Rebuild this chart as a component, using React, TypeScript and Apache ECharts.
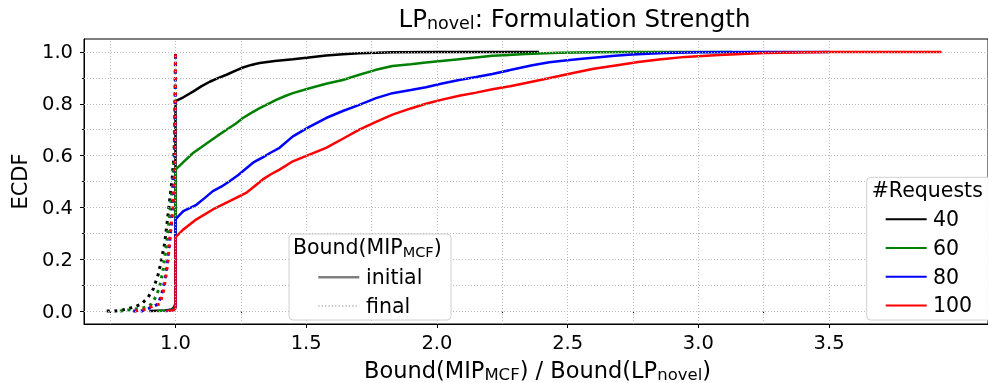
import React, { useEffect, useRef } from "react";
import * as echarts from "echarts";

const requestLabels = ["40", "60", "80", "100"];
const requestColors = ["#000000", "#008000", "#0000ff", "#ff0000"];

const initial40 = [[0.90,0],[0.96,0.002],[0.985,0.006],[0.995,0.015],[1.0,0.03],[1.0,0.81],[1.03,0.825],[1.067,0.847],[1.1,0.868],[1.131,0.885],[1.16,0.898],[1.195,0.912],[1.23,0.928],[1.258,0.94],[1.29,0.95],[1.322,0.957],[1.38,0.965],[1.449,0.972],[1.51,0.979],[1.576,0.986],[1.64,0.991],[1.703,0.995],[1.77,0.997],[1.83,0.999],[2.0,1.0],[2.39,1.0]];
const initial60 = [[0.93,0],[0.97,0.002],[0.99,0.006],[0.997,0.012],[1.0,0.02],[1.0,0.546],[1.03,0.575],[1.067,0.61],[1.1,0.633],[1.131,0.655],[1.16,0.676],[1.195,0.70],[1.23,0.723],[1.258,0.745],[1.29,0.765],[1.322,0.783],[1.355,0.80],[1.385,0.815],[1.42,0.83],[1.449,0.841],[1.513,0.86],[1.576,0.877],[1.64,0.892],[1.703,0.912],[1.767,0.931],[1.83,0.946],[1.9,0.953],[1.958,0.959],[2.085,0.972],[2.212,0.985],[2.34,0.992],[2.467,0.997],[2.6,0.999],[2.745,1.0],[3.13,1.0]];
const initial80 = [[0.96,0],[0.99,0.003],[0.998,0.008],[1.0,0.015],[1.0,0.354],[1.015,0.37],[1.03,0.386],[1.08,0.41],[1.11,0.435],[1.143,0.463],[1.175,0.48],[1.207,0.501],[1.24,0.525],[1.27,0.55],[1.30,0.575],[1.334,0.593],[1.365,0.612],[1.398,0.63],[1.449,0.674],[1.51,0.71],[1.576,0.745],[1.64,0.772],[1.703,0.796],[1.767,0.822],[1.83,0.841],[1.9,0.853],[1.958,0.864],[2.02,0.878],[2.085,0.892],[2.15,0.903],[2.212,0.915],[2.28,0.93],[2.365,0.949],[2.43,0.96],[2.49,0.967],[2.555,0.974],[2.62,0.98],[2.68,0.985],[2.747,0.99],[2.87,0.996],[3.0,0.999],[3.2,1.0],[3.5,1.0]];
const initial100 = [[0.965,0],[0.99,0.003],[0.998,0.008],[1.0,0.015],[1.0,0.285],[1.015,0.30],[1.03,0.315],[1.08,0.354],[1.143,0.392],[1.207,0.424],[1.27,0.456],[1.30,0.48],[1.334,0.508],[1.365,0.528],[1.398,0.546],[1.449,0.578],[1.51,0.603],[1.576,0.63],[1.64,0.665],[1.703,0.70],[1.767,0.73],[1.83,0.758],[1.9,0.782],[1.958,0.80],[2.02,0.816],[2.085,0.831],[2.15,0.843],[2.212,0.856],[2.28,0.868],[2.34,0.88],[2.40,0.893],[2.467,0.907],[2.53,0.921],[2.6,0.935],[2.696,0.95],[2.77,0.961],[2.85,0.971],[2.95,0.981],[3.08,0.988],[3.256,0.996],[3.5,1.0],[3.93,1.0]];

const final40 = [[0.737,0],[0.768,0],[0.80,0.005],[0.838,0.014],[0.87,0.027],[0.895,0.053],[0.915,0.085],[0.934,0.142],[0.947,0.2],[0.959,0.264],[0.968,0.341],[0.978,0.431],[0.987,0.508],[0.994,0.597],[0.997,0.70],[0.999,0.85],[1.0,1.0]];
const final60 = [[0.787,0],[0.826,0.005],[0.889,0.014],[0.908,0.027],[0.927,0.059],[0.94,0.097],[0.953,0.161],[0.963,0.238],[0.972,0.315],[0.981,0.405],[0.989,0.495],[0.995,0.597],[0.998,0.72],[1.0,1.0]];
const final80 = [[0.838,0],[0.87,0],[0.908,0.014],[0.934,0.027],[0.947,0.065],[0.959,0.117],[0.968,0.18],[0.976,0.251],[0.985,0.341],[0.991,0.443],[0.996,0.546],[0.999,0.72],[1.0,1.0]];
const final100 = [[0.845,0],[0.88,0.005],[0.915,0.02],[0.94,0.027],[0.953,0.072],[0.963,0.13],[0.972,0.2],[0.978,0.277],[0.987,0.367],[0.994,0.469],[0.997,0.572],[0.999,0.74],[1.0,1.0]];

const initialSeries = [initial40, initial60, initial80, initial100];
const finalSeries = [final40, final60, final80, final100];

const xMajorTicks = [1.0, 1.5, 2.0, 2.5, 3.0, 3.5];
const xMinorTicks = [0.75, 1.25, 1.75, 2.25, 2.75, 3.25];
const xGridValues = [0.75, 1.0, 1.25, 1.5, 1.75, 2.0, 2.25, 2.5, 2.75, 3.0, 3.25, 3.5];
const yMajorTicks = [0, 0.2, 0.4, 0.6, 0.8, 1.0];
const yMinorTicks = [0.1, 0.3, 0.5, 0.7, 0.9];
const yGridValues = [0, 0.1, 0.2, 0.3, 0.4, 0.5, 0.6, 0.7, 0.8, 0.9, 1.0];

const FONT = "DejaVu Sans";

export default function App() {
  const ref = useRef<HTMLDivElement>(null);
  useEffect(() => {
    const chart = echarts.init(ref.current!, null, { renderer: "svg" });
    const grid = { left: 84, right: -2, top: 39, bottom: 59, show: true, borderColor: "#000", borderWidth: 1, backgroundColor: "transparent" };
    const xCommon = { type: "value", min: 0.65, max: 4.108, gridIndex: 0, splitLine: { show: false } };
    const yCommon = { type: "value", min: -0.05, max: 1.05, gridIndex: 0, splitLine: { show: false } };
    const series: any[] = [
      {
        type: "line",
        data: [],
        z: 1,
        silent: true,
        markLine: {
          silent: true,
          symbol: ["none", "none"],
          label: { show: false },
          emphasis: { disabled: true },
          lineStyle: { color: "#b8b8b8", width: 1, type: [1, 2] },
          data: [
            ...xGridValues.map((v) => ({ xAxis: v })),
            ...yGridValues.map((v) => ({ yAxis: v })),
          ],
        },
      },
    ];
    initialSeries.forEach((d, i) => {
      series.push({
        type: "line",
        name: requestLabels[i] + " initial",
        data: d,
        showSymbol: false,
        symbol: "none",
        z: 3,
        lineStyle: { color: requestColors[i], width: 2.5 },
      });
    });
    finalSeries.forEach((d, i) => {
      series.push({
        type: "line",
        name: requestLabels[i] + " final",
        data: d,
        showSymbol: false,
        symbol: "none",
        z: 4,
        lineStyle: { color: requestColors[i], width: 3, type: [3, 4.6], cap: "butt" },
      });
    });

    const legendItems: any[] = requestLabels.map((lab, i) => ({
      type: "group",
      z: 20,
      children: [
        { type: "line", z: 21, shape: { x1: 885.7, y1: 219.3 + i * 28.7, x2: 926.7, y2: 219.3 + i * 28.7 }, style: { stroke: requestColors[i], lineWidth: 2 } },
        { type: "text", z: 21, style: { text: lab, x: 933, y: 219.3 + i * 28.7, verticalAlign: "middle", align: "left", fontSize: 20.5, fontFamily: FONT, fill: "#000" } },
      ],
    }));

    chart.setOption({
      animation: false,
      grid,
      xAxis: [
        {
          ...xCommon,
          axisLine: { show: true, onZero: false, lineStyle: { color: "#000", width: 1 } },
          axisTick: { show: true, customValues: xMajorTicks, length: 4, lineStyle: { color: "#000", width: 1 } },
          axisLabel: { show: true, customValues: xMajorTicks, margin: 8, fontSize: 19.5, fontFamily: FONT, color: "#000", formatter: (v: number) => v.toFixed(1) },
        },
        {
          ...xCommon,
          position: "bottom",
          axisLine: { show: false },
          axisTick: { show: true, customValues: xMinorTicks, length: 2, lineStyle: { color: "#000", width: 1 } },
          axisLabel: { show: false },
        },
      ],
      yAxis: [
        {
          ...yCommon,
          axisLine: { show: true, onZero: false, lineStyle: { color: "#000", width: 1 } },
          axisTick: { show: true, customValues: yMajorTicks, length: 4, lineStyle: { color: "#000", width: 1 } },
          axisLabel: { show: true, customValues: yMajorTicks, margin: 11, fontSize: 19.5, fontFamily: FONT, color: "#000", formatter: (v: number) => v.toFixed(1) },
        },
        {
          ...yCommon,
          position: "left",
          axisLine: { show: false },
          axisTick: { show: true, customValues: yMinorTicks, length: 2, lineStyle: { color: "#000", width: 1 } },
          axisLabel: { show: false },
        },
      ],
      series,
      graphic: [
        {
          type: "text", z: 20,
          style: {
            text: "{m|LP}{s|novel}{m|: Formulation Strength}",
            x: 574.5, y: 18, align: "center", verticalAlign: "middle", fill: "#000",
            rich: { m: { fontSize: 24.5, fontFamily: FONT, fill: "#000" }, s: { fontSize: 17.5, fontFamily: FONT, fill: "#000", padding: [10, 0, 0, 0] } },
          },
        },
        {
          type: "text", z: 20,
          style: {
            text: "{m|Bound(MIP}{s|MCF}{m|) / Bound(LP}{s|novel}{m|)}",
            x: 537.5, y: 370, align: "center", verticalAlign: "middle", fill: "#000",
            rich: { m: { fontSize: 22.5, fontFamily: FONT, fill: "#000" }, s: { fontSize: 16.5, fontFamily: FONT, fill: "#000", padding: [9, 0, 0, 0] } },
          },
        },
        {
          type: "text", z: 20, x: 20, y: 181.5, rotation: Math.PI / 2,
          style: { text: "ECDF", x: 0, y: 0, align: "center", verticalAlign: "middle", fontSize: 21, fontFamily: FONT, fill: "#000" },
        },
        {
          type: "rect", z: 20,
          shape: { x: 289, y: 234, width: 162, height: 86, r: 4 },
          style: { fill: "rgba(255,255,255,0.95)", stroke: "#d0d0d0", lineWidth: 1 },
        },
        {
          type: "text", z: 21,
          style: {
            text: "{m|Bound(MIP}{s|MCF}{m|)}",
            x: 293, y: 247, align: "left", verticalAlign: "middle", fill: "#000",
            rich: { m: { fontSize: 20.5, fontFamily: FONT, fill: "#000" }, s: { fontSize: 14.5, fontFamily: FONT, fill: "#000", padding: [9, 0, 0, 0] } },
          },
        },
        { type: "line", z: 21, shape: { x1: 318.3, y1: 277.3, x2: 359.3, y2: 277.3 }, style: { stroke: "#808080", lineWidth: 2.5 } },
        { type: "text", z: 21, style: { text: "initial", x: 366, y: 277.3, align: "left", verticalAlign: "middle", fontSize: 20.5, fontFamily: FONT, fill: "#000" } },
        { type: "line", z: 21, shape: { x1: 318.3, y1: 306, x2: 359.3, y2: 306 }, style: { stroke: "#808080", lineWidth: 1.2, lineDash: [1.2, 2.2] } },
        { type: "text", z: 21, style: { text: "final", x: 366, y: 306, align: "left", verticalAlign: "middle", fontSize: 20.5, fontFamily: FONT, fill: "#000" } },
        {
          type: "rect", z: 20,
          shape: { x: 866.7, y: 177.3, width: 150, height: 142.7, r: 4 },
          style: { fill: "rgba(255,255,255,0.95)", stroke: "#d0d0d0", lineWidth: 1 },
        },
        { type: "text", z: 21, style: { text: "#Requests", x: 871.7, y: 190, align: "left", verticalAlign: "middle", fontSize: 20.5, fontFamily: FONT, fill: "#000" } },
        ...legendItems,
      ],
    });
    return () => chart.dispose();
  }, []);
  return <div ref={ref} style={{ position: "fixed", left: 0, top: 0, width: 988, height: 383 }} />;
}
